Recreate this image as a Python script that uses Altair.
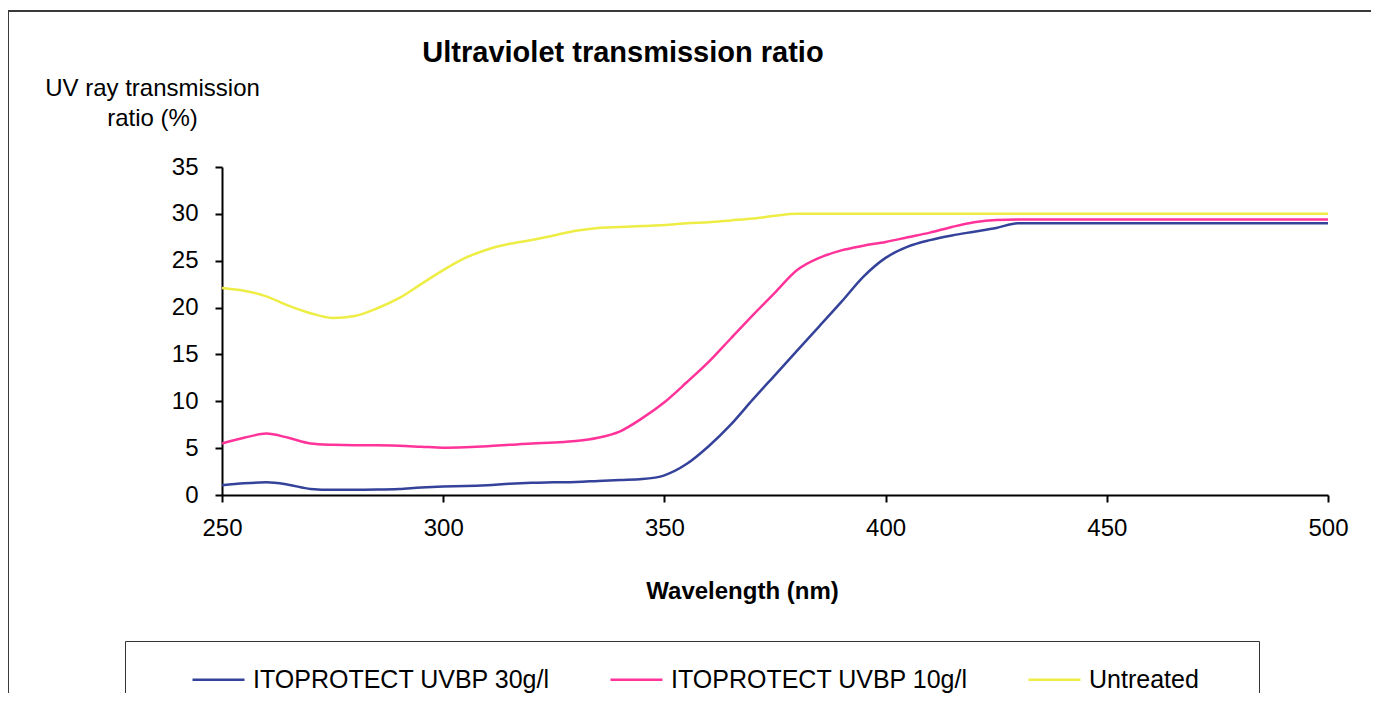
import altair as alt
import pandas as pd

wavelengths = list(range(250, 505, 5))

untreated = [22.1, 21.8, 21.2, 20.2, 19.4, 18.9, 19.1, 19.9, 21.0, 22.5,
             24.0, 25.3, 26.2, 26.8, 27.2, 27.7, 28.2, 28.5, 28.6, 28.7,
             28.8, 29.0, 29.1, 29.3, 29.5, 29.8, 30.0] + [30.0] * 24

uvbp10 = [5.5, 6.1, 6.55, 6.1, 5.5, 5.35, 5.3, 5.3, 5.25, 5.15,
          5.05, 5.1, 5.2, 5.35, 5.5, 5.6, 5.75, 6.1, 6.8, 8.2,
          9.9, 12.0, 14.2, 16.7, 19.2, 21.6, 24.0, 25.3, 26.1, 26.6,
          27.0, 27.5, 28.0, 28.6, 29.1, 29.35, 29.4] + [29.4] * 14

uvbp30 = [1.05, 1.25, 1.35, 1.1, 0.65, 0.55, 0.55, 0.58, 0.65, 0.8,
          0.9, 0.95, 1.05, 1.2, 1.3, 1.35, 1.4, 1.5, 1.6, 1.7,
          2.1, 3.3, 5.2, 7.5, 10.2, 12.8, 15.4, 18.0, 20.6, 23.3,
          25.3, 26.5, 27.2, 27.7, 28.1, 28.5, 29.0] + [29.0] * 14

series_names = ["ITOPROTECT UVBP 30g/l", "ITOPROTECT UVBP 10g/l", "Untreated"]
series_colors = ["#34429A", "#FF3399", "#EDED45"]

rows = []
for name, vals in zip(series_names, [uvbp30, uvbp10, untreated]):
    for w, v in zip(wavelengths, vals):
        rows.append({"wl": w, "v": v, "series": name})
df = pd.DataFrame(rows)

FONT = "Liberation Sans"
PAD = "\u00a0" * 7 + "\u200b"
label_expr = "datum.label == 'Untreated' ? datum.label + '" + PAD + "' : datum.label"

lines = alt.Chart(df).mark_line(interpolate="monotone", strokeWidth=2.5).encode(
    x=alt.X("wl:Q",
            scale=alt.Scale(domain=[250, 500], nice=False, zero=False),
            axis=alt.Axis(values=[250, 300, 350, 400, 450, 500], grid=False,
                          title="Wavelength  (nm)", titleFont=FONT, titleFontSize=24,
                          titleFontWeight="bold", titleColor="black",
                          titleX=520, titleY=96, titleAlign="center", titleBaseline="middle",
                          labelFont=FONT, labelFontSize=24, labelColor="black",
                          labelFlush=False, labelPadding=14,
                          domainColor="black", domainWidth=2,
                          tickColor="black", tickWidth=2, tickSize=7)),
    y=alt.Y("v:Q",
            scale=alt.Scale(domain=[0, 35], nice=False),
            axis=alt.Axis(values=[0, 5, 10, 15, 20, 25, 30, 35], grid=False,
                          title=["UV ray transmission", "ratio (%)"], titleFont=FONT,
                          titleFontSize=24, titleFontWeight="normal", titleColor="black",
                          titleAngle=0, titleAlign="center", titleBaseline="middle",
                          titleX=-70, titleY=-79, titleLineHeight=30,
                          labelFont=FONT, labelFontSize=24, labelColor="black",
                          labelPadding=17, domainColor="black", domainWidth=2,
                          tickColor="black", tickWidth=2, tickSize=7)),
    color=alt.Color("series:N",
                    scale=alt.Scale(domain=series_names, range=series_colors),
                    legend=alt.Legend(orient="none", legendX=-97, legendY=474,
                                      direction="horizontal", title=[" ", " ", " "],
                                      titleOrient="left", titlePadding=55,
                                      titleFontSize=24, titleFont=FONT, titleLineHeight=25,
                                      labelFont=FONT, labelFontSize=25, labelColor="black",
                                      labelOffset=7, labelLimit=400, labelExpr=label_expr,
                                      symbolType="stroke", symbolSize=2704,
                                      symbolStrokeWidth=2.5, columnPadding=55,
                                      padding=11, strokeColor="#333333",
                                      fillColor="white")),
)

frame_src = pd.DataFrame({"k": [0]})
frame_top = alt.Chart(frame_src).mark_rule(stroke="#3a3a3a", strokeWidth=2).encode(
    x=alt.value(-214), x2=alt.value(1200), y=alt.value(-156))
frame_left = alt.Chart(frame_src).mark_rule(stroke="#3a3a3a", strokeWidth=2).encode(
    x=alt.value(-214), y=alt.value(-157), y2=alt.value(600))

chart = alt.layer(frame_top, frame_left, lines).properties(
    width=1106, height=328,
    background="white",
    autosize=alt.AutoSizeParams(type="none"),
    padding={"left": 214, "top": 159, "right": 43, "bottom": 198},
    title=alt.TitleParams("Ultraviolet transmission ratio", font=FONT, fontSize=29,
                          fontWeight="bold", color="black", anchor="middle",
                          frame="group", dx=-152, baseline="alphabetic", offset=0, dy=82),
).configure_view(stroke=None)

chart.save("out.html", embed_options={"renderer": "svg", "actions": False})
